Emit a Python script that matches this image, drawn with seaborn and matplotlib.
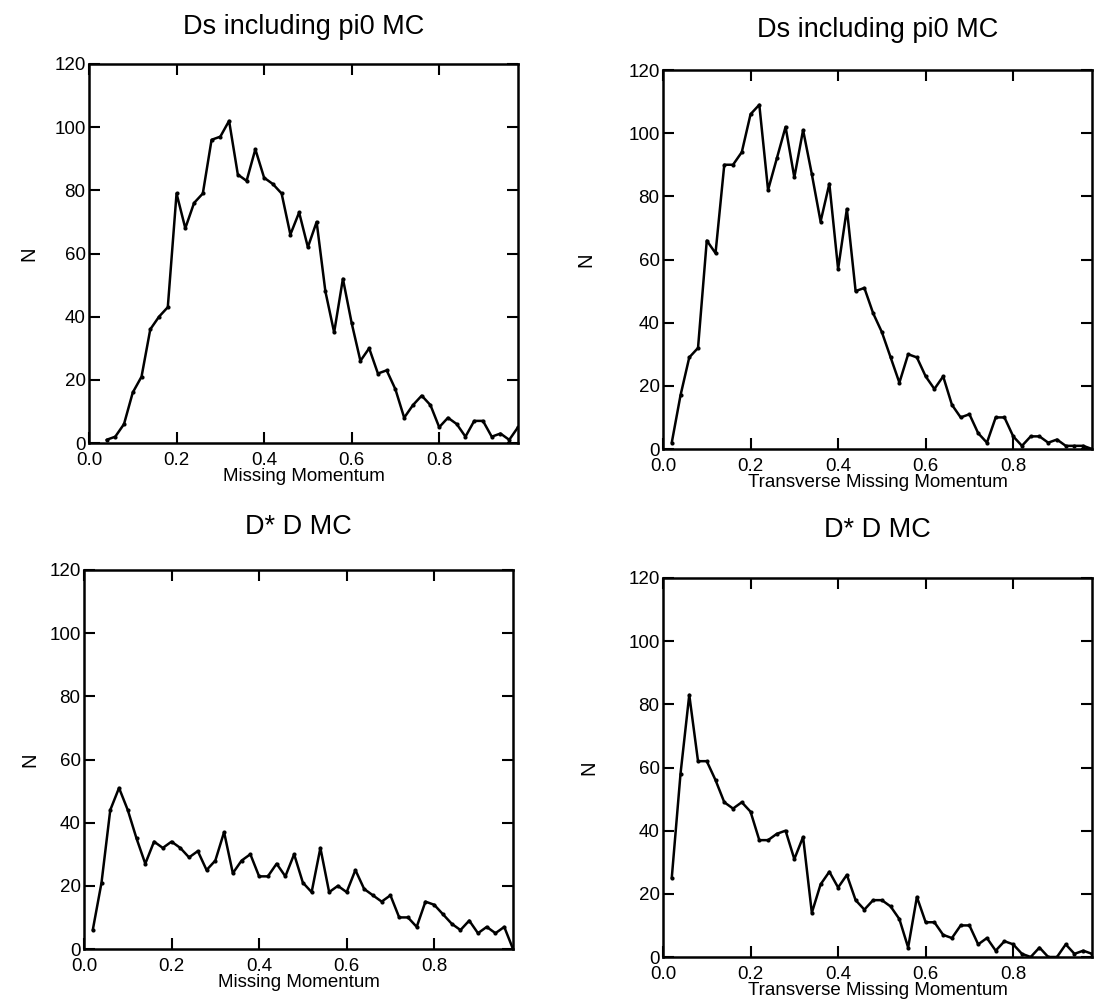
import numpy as np
import pandas as pd
import matplotlib
matplotlib.use("Agg")
import matplotlib.pyplot as plt
import seaborn as sns

# ---- data ----
x_tl = [round(0.04 + 0.02 * i, 2) for i in range(48)]
y_tl = [1, 2, 6, 16, 21, 36, 40, 43, 79, 68, 76, 79, 96, 97, 102, 85, 83, 93, 84, 82,
        79, 66, 73, 62, 70, 48, 35, 52, 38, 26, 30, 22, 23, 17, 8, 12, 15, 12, 5, 8,
        6, 2, 7, 7, 2, 3, 1, 5]

x_full = [round(0.02 + 0.02 * i, 2) for i in range(49)]
y_tr = [2, 17, 29, 32, 66, 62, 90, 90, 94, 106, 109, 82, 92, 102, 86, 101, 87, 72, 84, 57,
        76, 50, 51, 43, 37, 29, 21, 30, 29, 23, 19, 23, 14, 10, 11, 5, 2, 10, 10, 4,
        1, 4, 4, 2, 3, 1, 1, 1, 0]
y_bl = [6, 21, 44, 51, 44, 35, 27, 34, 32, 34, 32, 29, 31, 25, 28, 37, 24, 28, 30, 23,
        23, 27, 23, 30, 21, 18, 32, 18, 20, 18, 25, 19, 17, 15, 17, 10, 10, 7, 15, 14,
        11, 8, 6, 9, 5, 7, 5, 7, 0]
y_br = [25, 58, 83, 62, 62, 56, 49, 47, 49, 46, 37, 37, 39, 40, 31, 38, 14, 23, 27, 22,
        26, 18, 15, 18, 18, 16, 12, 3, 19, 11, 11, 7, 6, 10, 10, 4, 6, 2, 5, 4,
        1, 0, 3, 0, 0, 4, 1, 2, 1]

titles = ["Ds including pi0 MC", "Ds including pi0 MC", "D* D MC", "D* D MC"]
xlabels = ["Missing Momentum", "Transverse Missing Momentum",
           "Missing Momentum", "Transverse Missing Momentum"]
ylabel = "N"
xticks = [0.0, 0.2, 0.4, 0.6, 0.8]
xticklabels = ["0.0", "0.2", "0.4", "0.6", "0.8"]
yticks = [0, 20, 40, 60, 80, 100, 120]

# ---- style ----
sns.set_theme(style="ticks")
plt.rcParams["font.family"] = ["Liberation Sans", "DejaVu Sans"]

W, H = 1094, 1001
fig = plt.figure(figsize=(W / 100, H / 100), dpi=100)

def rect(left, top, width=429, height=379):
    return [left / W, 1 - (top + height) / H, width / W, height / H]

panels = [
    (rect(89, 64), x_tl, y_tl, -0.117, (89 + 214.5, 27)),
    (rect(663, 70), x_full, y_tr, -0.158, (663 + 214.5, 30)),
    (rect(84, 570), x_full, y_bl, -0.105, (84 + 214.5, 527)),
    (rect(663, 578), x_full, y_br, -0.150, (663 + 214.5, 530)),
]

for i, (r, xs, ys, ylx, (tx, ty)) in enumerate(panels):
    ax = fig.add_axes(r)
    df = pd.DataFrame({"x": xs, "y": ys})
    sns.lineplot(data=df, x="x", y="y", ax=ax, color="black", linewidth=1.8,
                 marker="o", markersize=3, markeredgewidth=0, estimator=None)
    ax.set_xlim(0, 0.98)
    ax.set_ylim(0, 120)
    ax.set_xticks(xticks)
    ax.set_xticklabels(xticklabels)
    ax.set_yticks(yticks)
    ax.tick_params(direction="in", length=8, width=1.5, top=True, right=True,
                   labelsize=13.5, colors="black")
    ax.tick_params(axis="x", pad=6.5)
    ax.tick_params(axis="y", pad=2.5)
    for s in ax.spines.values():
        s.set_linewidth(1.8)
        s.set_color("black")
    ax.set_xlabel(xlabels[i], fontsize=13.5, labelpad=-1, color="black")
    ax.set_ylabel(ylabel, fontsize=14.5, color="black")
    ax.yaxis.set_label_coords(ylx, 0.5)
    fig.text(tx / W, 1 - ty / H, titles[i], ha="center", va="center",
             fontsize=19.5, color="black")

fig.savefig("out.png", dpi=100)
